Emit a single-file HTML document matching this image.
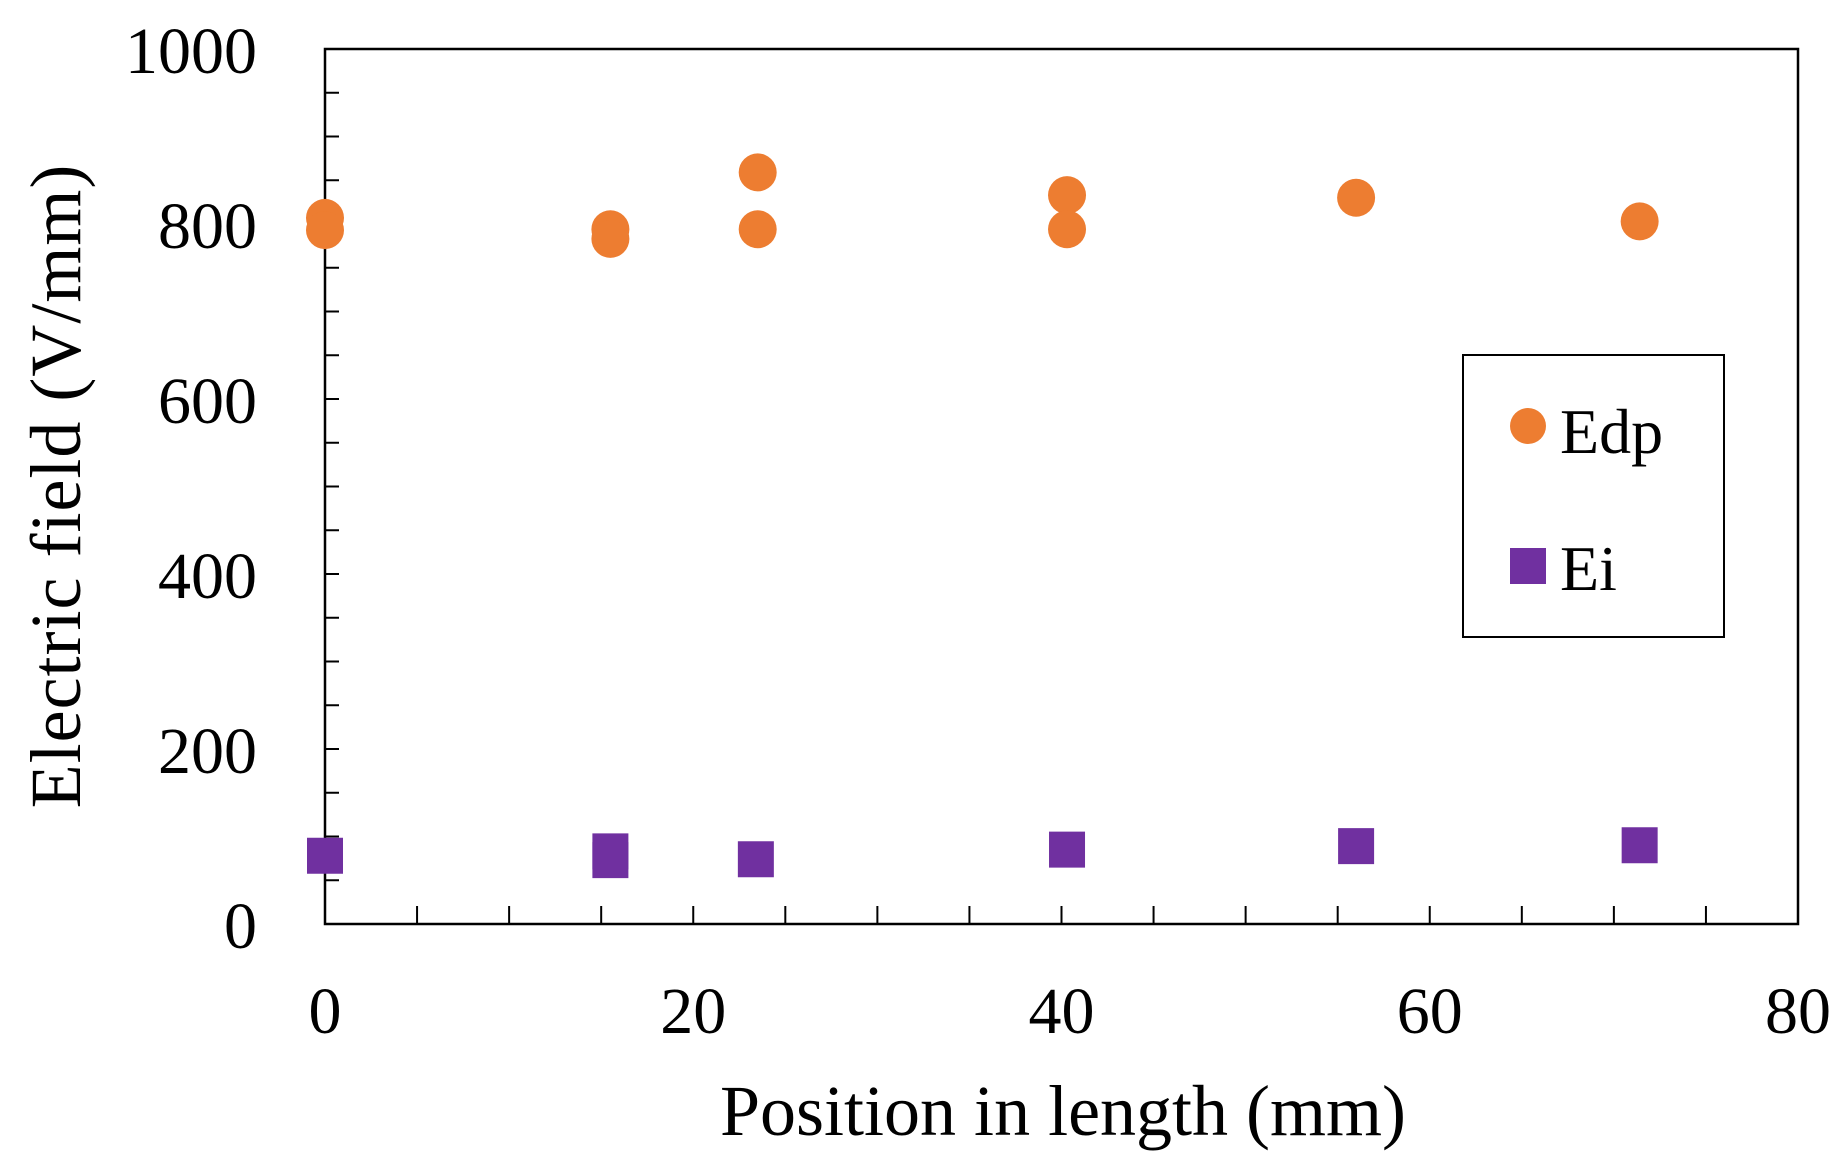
<!DOCTYPE html>
<html><head><meta charset="utf-8"><style>
html,body{margin:0;padding:0;background:#fff;}
svg{display:block;font-family:"Liberation Serif",serif;}
</style></head><body>
<svg id="chart" width="1845" height="1173" viewBox="0 0 1845 1173" xmlns="http://www.w3.org/2000/svg">
<rect x="325" y="49" width="1473" height="875" fill="none" stroke="#000" stroke-width="2.5"/>
<g id="ticks"></g>
<g id="marks"></g>
<text x="1063" y="1135" font-size="72" text-anchor="middle">Position in length (mm)</text>
<text transform="translate(80,486) rotate(-90)" font-size="72" letter-spacing="1" text-anchor="middle">Electric field (V/mm)</text>
<g>
<rect x="1463" y="355" width="261" height="282" fill="#fff" stroke="#000" stroke-width="2"/>
<circle cx="1528" cy="426" r="18" fill="#ED7D31"/>
<text x="1560" y="453" font-size="64">Edp</text>
<rect x="1510" y="548" width="36" height="36" fill="#7030A0"/>
<text x="1560" y="590" font-size="64">Ei</text>
</g>
</svg>
<script>
const xTicks = [0, 20, 40, 60, 80];
const yTicks = [0, 200, 400, 600, 800, 1000];
const edpX = [0, 0, 15.5, 15.5, 23.5, 23.5, 40.3, 40.3, 56, 71.4];
const edpY = [807, 793, 794, 783, 859, 794, 833, 794, 830, 803];
const eiX = [0, 15.5, 15.5, 23.4, 40.3, 56, 71.4];
const eiY = [78, 83, 73, 74, 85, 89, 90];
const L=325,R=1798,T=49,B=924;
const sx=v=>L+(v-0)/80*(R-L);
const sy=v=>B-(v-0)/1000*(B-T);
const NS="http://www.w3.org/2000/svg";
const tg=document.getElementById('ticks'), mg=document.getElementById('marks');
function mk(tag,attrs,parent){const e=document.createElementNS(NS,tag);for(const k in attrs)e.setAttribute(k,attrs[k]);parent.appendChild(e);return e;}
for(let v=0;v<=1000;v+=50){
  const l=mk('line',{x1:L,x2:L+14,y1:sy(v),y2:sy(v),stroke:'#000','stroke-width':2},tg);
  
  
}
for(let v=5;v<80;v+=5){
  const l=mk('line',{x1:sx(v),x2:sx(v),y1:B,y2:B-18,stroke:'#000','stroke-width':2},tg);
  
  
}
yTicks.forEach(v=>{
  const t=mk('text',{x:257,y:sy(v)+24,'font-size':66,'text-anchor':'end'},tg);
  t.textContent=v;
  
  
});
xTicks.forEach(v=>{
  const t=mk('text',{x:sx(v),y:1033,'font-size':66,'text-anchor':'middle'},tg);
  t.textContent=v;
  
  
});
edpX.forEach((x,i)=>{
  const c=mk('circle',{cx:sx(x),cy:sy(edpY[i]),r:19,fill:'#ED7D31'},mg);
  
  
});
eiX.forEach((x,i)=>{
  const r=mk('rect',{x:sx(x)-18,y:sy(eiY[i])-18,width:36,height:36,fill:'#7030A0'},mg);
  
  
});
</script>
</body></html>
